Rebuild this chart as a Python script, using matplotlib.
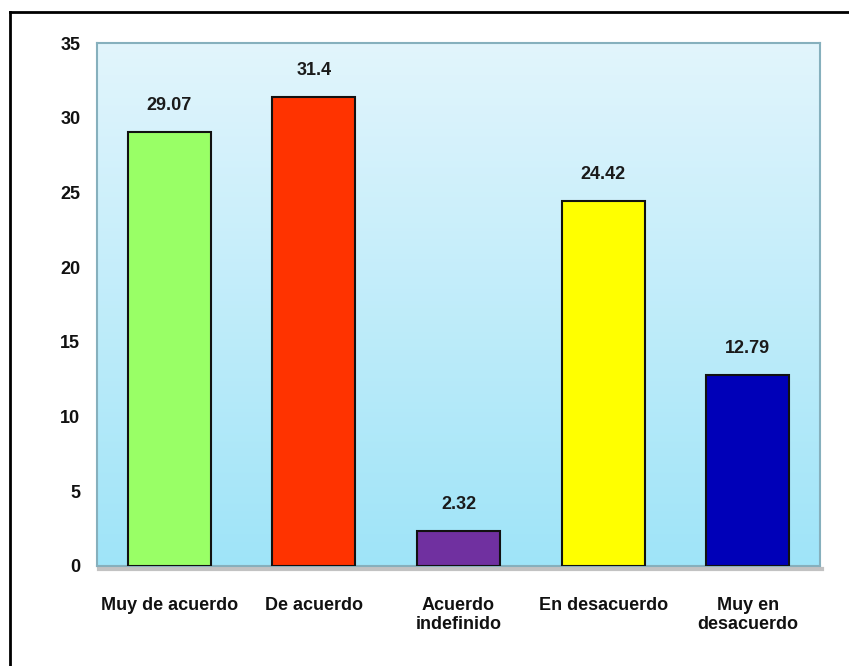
import numpy as np
import matplotlib.pyplot as plt
from matplotlib.lines import Line2D
from matplotlib.colors import LinearSegmentedColormap

plt.rcParams['font.family'] = ['Liberation Sans Narrow', 'Liberation Sans', 'DejaVu Sans']

categorias = ['Muy de acuerdo', 'De acuerdo', 'Acuerdo\nindefinido',
              'En desacuerdo', 'Muy en\ndesacuerdo']
valores = [29.07, 31.4, 2.32, 24.42, 12.79]
colores = ['#99ff66', '#ff3300', '#7030a0', '#ffff00', '#0000b8']
yticks = [0, 5, 10, 15, 20, 25, 30, 35]

fig = plt.figure(figsize=(8.49, 6.66), dpi=100)
fig.patch.set_facecolor('white')

# frame around the whole figure (only top and left edges fall inside the canvas)
fig.add_artist(Line2D([10 / 849, 10 / 849], [0, 1 - 12 / 666], color='black', lw=2,
                      transform=fig.transFigure))
fig.add_artist(Line2D([10 / 849, 1], [1 - 12 / 666, 1 - 12 / 666], color='black', lw=2,
                      transform=fig.transFigure))

ax = fig.add_axes([97 / 849, 1 - 566 / 666, (820 - 97) / 849, (566 - 43) / 666])

x = np.arange(len(categorias))
ax.set_xlim(-0.5, len(categorias) - 0.5)
ax.set_ylim(0, 35)

# vertical gradient background, pale at top, light blue at bottom
grad = np.linspace(0, 1, 256).reshape(-1, 1)
cmap = LinearSegmentedColormap.from_list('fondo', ['#9fe4f8', '#e2f5fc'])
ax.imshow(grad, aspect='auto', cmap=cmap, origin='lower',
          extent=[-0.5, len(categorias) - 0.5, 0, 35], zorder=0)

barras = ax.bar(x, valores, width=0.575, color=colores, edgecolor='#111111',
                linewidth=1.5, zorder=3)

for b, v in zip(barras, valores):
    ax.text(b.get_x() + b.get_width() / 2, v + 1.2, f'{v:g}', ha='center', va='bottom',
            fontsize=13, fontweight='bold', color='#1a1a1a', zorder=4)

ax.set_xticks(x)
ax.set_xticklabels(categorias, fontsize=13, fontweight='bold', color='#111111',
                   linespacing=1.2)
ax.set_yticks(yticks)
ax.set_yticklabels([str(t) for t in yticks], fontsize=13, fontweight='bold', color='#111111')
ax.tick_params(axis='both', length=0)
ax.tick_params(axis='x', pad=22)
ax.tick_params(axis='y', pad=12)

for s in ax.spines.values():
    s.set_color('#86b0bd')
    s.set_linewidth(1.5)

# soft shadow under the plot area
fig.add_artist(Line2D([99 / 849, 822 / 849], [1 - 569 / 666, 1 - 569 / 666],
                      color='#9a9a9a', lw=3, alpha=0.6, transform=fig.transFigure))

fig.savefig('out.png', dpi=100)
